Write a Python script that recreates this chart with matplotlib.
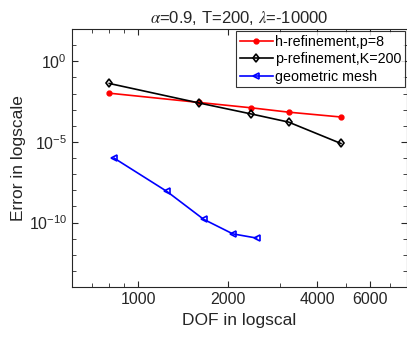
import matplotlib
matplotlib.use('Agg')
import matplotlib.pyplot as plt
from matplotlib.ticker import FixedLocator, NullFormatter

plt.rcParams['font.family'] = ['Liberation Sans', 'DejaVu Sans']
plt.rcParams['mathtext.fontset'] = 'stix'

# data
dof_hp = [800, 1600, 2400, 3200, 4800]
err_h = [1.05e-2, 2.8e-3, 1.3e-3, 7.0e-4, 3.5e-4]
err_p = [4.2e-2, 2.6e-3, 5.4e-4, 1.7e-4, 8.0e-6]
dof_geo = [830, 1250, 1660, 2080, 2500]
err_geo = [1.0e-6, 8.5e-9, 1.6e-10, 2.0e-11, 1.1e-11]

xticks = [1000, 2000, 4000, 6000]
xminor = [700, 800, 900, 3000, 5000, 7000, 8000]
yticks = [1e-10, 1e-5, 1e0]
yminor = [10.0**k for k in range(-14, 3) if k not in (-10, -5, 0)]

fig = plt.figure(figsize=(4.07, 3.37), dpi=100)
ax = fig.add_axes([0.177, 0.148, 0.823, 0.766])

ax.loglog(dof_hp, err_h, '.-', color='red', lw=1.2, ms=7, label='h-refinement,p=8')
ax.loglog(dof_hp, err_p, 'd-', color='black', lw=1.2, ms=4.5, mfc='none', mew=1.2,
          label='p-refinement,K=200')
ax.loglog(dof_geo, err_geo, '<-', color='blue', lw=1.2, ms=5, mfc='none', mew=1.2,
          label='geometric mesh')

ax.set_xlim(600, 8000)
ax.set_ylim(1e-14, 1e2)
ax.xaxis.set_major_locator(FixedLocator(xticks))
ax.xaxis.set_minor_locator(FixedLocator(xminor))
ax.xaxis.set_minor_formatter(NullFormatter())
ax.set_xticklabels([str(t) for t in xticks])
ax.yaxis.set_major_locator(FixedLocator(yticks))
ax.yaxis.set_minor_locator(FixedLocator(yminor))
ax.yaxis.set_minor_formatter(NullFormatter())
ax.tick_params(which='both', direction='in', top=True, right=True, labelsize=11.5,
               colors='#262626', labelcolor='#262626')
ax.tick_params(which='major', length=4)
ax.tick_params(which='minor', length=3)
for s in ax.spines.values():
    s.set_color('#262626')
    s.set_linewidth(0.8)

ax.set_xlabel('DOF in logscal', fontsize=12.5, color='#262626')
ax.set_ylabel('Error in logscale', fontsize=12.5, color='#262626', labelpad=2)
ax.set_title(r'$\alpha$=0.9, T=200, $\lambda$=-10000', fontsize=12, color='#262626', pad=4)

leg = ax.legend(loc='upper right', fontsize=10.3, frameon=True, fancybox=False,
                borderpad=0.25, labelspacing=0.25, handlelength=2.3, handletextpad=0.15,
                borderaxespad=0.15)
leg.get_frame().set_edgecolor('black')
leg.get_frame().set_linewidth(0.8)

fig.savefig('out.png', dpi=100)
